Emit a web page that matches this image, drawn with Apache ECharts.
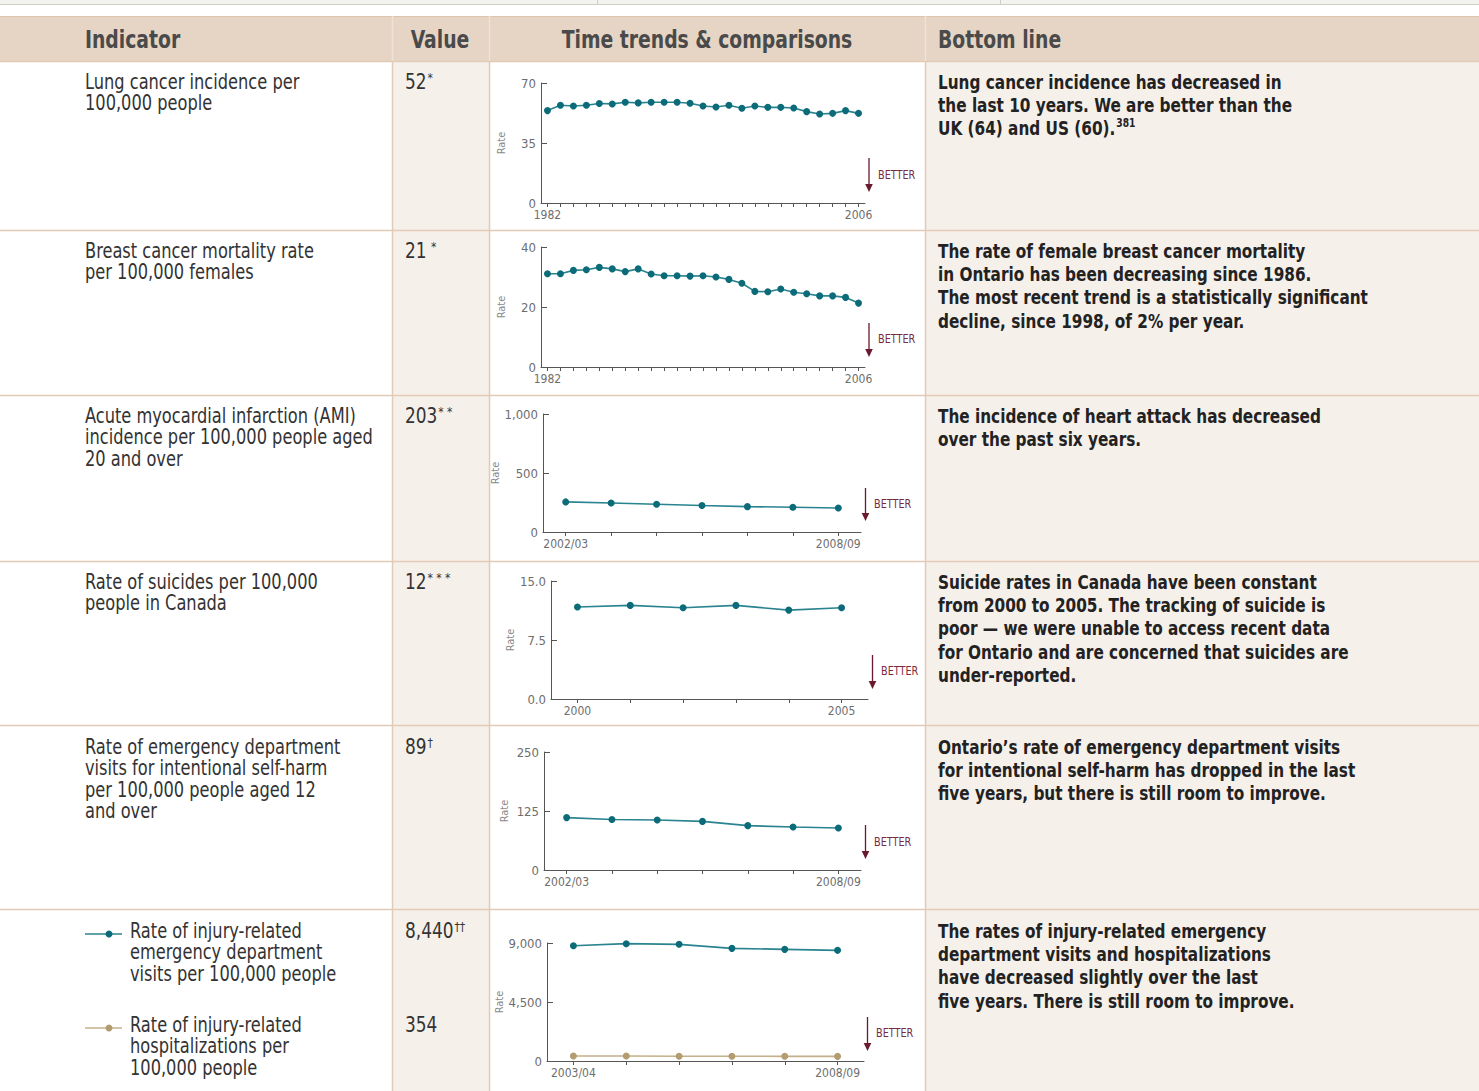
<!DOCTYPE html>
<html>
<head>
<meta charset="utf-8">
<title>Health indicators</title>
<script src="https://cdn.jsdelivr.net/npm/echarts@6/dist/echarts.min.js"></script>
<style>
  html, body { margin: 0; padding: 0; background: #ffffff; }
  #chart { width: 1479px; height: 1091px; }
</style>
</head>
<body>
<div id="chart"></div>
<script>
// ---- data ----
const years = ['1982','1983','1984','1985','1986','1987','1988','1989','1990','1991','1992','1993',
  '1994','1995','1996','1997','1998','1999','2000','2001','2002','2003','2004','2005','2006'];
const lungIncidence = [53.9, 57.0, 56.6, 57.0, 58.0, 57.8, 58.8, 58.4, 58.8, 58.8, 58.8, 58.2,
  56.6, 56.0, 57.0, 55.3, 56.6, 55.8, 55.8, 55.4, 53.3, 51.9, 52.3, 53.9, 52.3];
const breastMortality = [31.1, 31.1, 32.2, 32.4, 33.2, 32.7, 31.8, 32.7, 31.0, 30.4, 30.4, 30.3,
  30.4, 30.0, 29.2, 27.9, 25.2, 25.1, 26.0, 24.9, 24.4, 23.7, 23.7, 23.2, 21.3];
const fiscalYears7 = ['2002/03','2003/04','2004/05','2005/06','2006/07','2007/08','2008/09'];
const amiIncidence = [255, 246, 235, 224, 215, 210, 203];
const suicideYears = ['2000','2001','2002','2003','2004','2005'];
const suicideRate = [11.7, 11.9, 11.6, 11.9, 11.3, 11.6];
const selfHarmVisits = [111, 107, 106, 103, 94, 91, 89];
const fiscalYears6 = ['2003/04','2004/05','2005/06','2006/07','2007/08','2008/09'];
const injuryEdVisits = [8796, 8949, 8898, 8592, 8516, 8440];
const injuryHospitalizations = [382, 380, 366, 358, 356, 354];

const headers = ['Indicator', 'Value', 'Time trends & comparisons', 'Bottom line'];
const indicatorText = [
  ['Lung cancer incidence per', '100,000 people'],
  ['Breast cancer mortality rate', 'per 100,000 females'],
  ['Acute myocardial infarction (AMI)', 'incidence per 100,000 people aged', '20 and over'],
  ['Rate of suicides per 100,000', 'people in Canada'],
  ['Rate of emergency department', 'visits for intentional self-harm', 'per 100,000 people aged 12', 'and over'],
  ['Rate of injury-related', 'emergency department', 'visits per 100,000 people'],
  ['Rate of injury-related', 'hospitalizations per', '100,000 people']
];
const valueText = [
  ['52', '*'], ['21', ' *'], ['203', '* *'], ['12', '* * *'], ['89', '†'], ['8,440', '††'], ['354', '']
];
const bottomLineText = [
  ['Lung cancer incidence has decreased in', 'the last 10 years. We are better than the', ['UK (64) and US (60).', '381']],
  ['The rate of female breast cancer mortality', 'in Ontario has been decreasing since 1986.',
   'The most recent trend is a statistically significant', 'decline, since 1998, of 2% per year.'],
  ['The incidence of heart attack has decreased', 'over the past six years.'],
  ['Suicide rates in Canada have been constant', 'from 2000 to 2005. The tracking of suicide is',
   'poor — we were unable to access recent data', 'for Ontario and are concerned that suicides are', 'under-reported.'],
  ['Ontario’s rate of emergency department visits', 'for intentional self-harm has dropped in the last',
   'five years, but there is still room to improve.'],
  ['The rates of injury-related emergency', 'department visits and hospitalizations',
   'have decreased slightly over the last', 'five years. There is still room to improve.']
];
const betterLabel = 'BETTER';
const axisName = 'Rate';

// ---- styling / layout ----
const FONT = "'Liberation Sans Narrow','DejaVu Sans Condensed','Arial Narrow',sans-serif";
const TEAL = '#0b6b78', TEAL_LINE = '#2a8390';
const TAN = '#b39d70', TAN_LINE = '#c4b08a';
const MAROON = '#6a1a2e';
const RULE = '#e2cbb6';
const W = 1479, H = 1091;
const rowLines = [61, 230, 395, 561, 725, 909];
const colX = [392, 489, 925];

const charts = [
  { grid: { left: 541, top: 83, width: 324, height: 120 }, cats: years,
    series: [{ data: lungIncidence, dot: TEAL, line: TEAL_LINE }], max: 70, interval: 35,
    fmt: v => String(v), nameGap: 34, arrow: [869, 158, 192, 878, 175] },
  { grid: { left: 541, top: 247, width: 324, height: 120 }, cats: years,
    series: [{ data: breastMortality, dot: TEAL, line: TEAL_LINE }], max: 40, interval: 20,
    fmt: v => String(v), nameGap: 34, arrow: [869, 323, 357, 878, 339] },
  { grid: { left: 543, top: 414, width: 318, height: 118 }, cats: fiscalYears7,
    series: [{ data: amiIncidence, dot: TEAL, line: TEAL_LINE }], max: 1000, interval: 500,
    fmt: v => v.toLocaleString('en-US'), nameGap: 33, arrow: [865.5, 488, 521, 874, 504] },
  { grid: { left: 551, top: 581, width: 317, height: 118 }, cats: suicideYears,
    series: [{ data: suicideRate, dot: TEAL, line: TEAL_LINE }], max: 15, interval: 7.5,
    fmt: v => v.toFixed(1), nameGap: 34, arrow: [872.5, 655, 689, 881, 671] },
  { grid: { left: 544, top: 752, width: 317, height: 118 }, cats: fiscalYears7,
    series: [{ data: selfHarmVisits, dot: TEAL, line: TEAL_LINE }], max: 250, interval: 125,
    fmt: v => String(v), nameGap: 34, arrow: [865.5, 825, 859, 874, 842] },
  { grid: { left: 547, top: 943, width: 317, height: 118 }, cats: fiscalYears6,
    series: [{ data: injuryEdVisits, dot: TEAL, line: TEAL_LINE },
             { data: injuryHospitalizations, dot: TAN, line: TAN_LINE }], max: 9000, interval: 4500,
    fmt: v => v.toLocaleString('en-US'), nameGap: 39, arrow: [867.5, 1017, 1051, 876, 1033] }
];

// ---- table scaffolding ----
const g = [];
const rect = (x, y, w, h, fill, z) => g.push({ type: 'rect', z: z, silent: true,
  shape: { x, y, width: w, height: h }, style: { fill } });
const line = (x1, y1, x2, y2, stroke, lw, z) => g.push({ type: 'line', z: z, silent: true,
  shape: { x1, y1, x2, y2 }, style: { stroke, lineWidth: lw } });
// text anchored at (x, y); sx narrows the glyphs horizontally about the anchor
const text = (x, y, str, opts, sx) => g.push({ type: 'text', z: 5, silent: true, x, y,
  scaleX: sx || 1,
  style: Object.assign({ text: str, fontFamily: FONT, fontSize: 20, fill: '#333',
    align: 'left', verticalAlign: 'middle' }, opts || {}) });

// top strip
rect(0, 0, W, 4, '#f2f2ee', -10);
line(0, 4.5, W, 4.5, '#cfcfc6', 1, -5);
line(597.5, 0, 597.5, 4, '#cfcfc6', 1, -5);
line(1000.5, 0, 1000.5, 4, '#cfcfc6', 1, -5);

// column backgrounds
rect(colX[0], 61, colX[1] - colX[0], H - 61, '#f6f0eb', -10);
rect(colX[2], 61, W - colX[2], H - 61, '#f6f0eb', -10);
// header band
rect(0, 16, W, 45, '#e6d5c5', -9);
line(0, 16.5, W, 16.5, '#dcc4ae', 1, -5);
colX.forEach(x => line(x + 0.5, 16, x + 0.5, 61, '#efe3d7', 1.5, -4));
colX.forEach(x => line(x + 0.5, 61, x + 0.5, H, RULE, 1.5, -5));
rowLines.forEach(y => line(0, y + 0.5, W, y + 0.5, RULE, 1.5, -4));

const hdrStyle = { fontSize: 24, fontWeight: 'bold', fill: '#4a4a4a' };
const HDR_SX = 0.87;
text(85, 39, headers[0], hdrStyle, HDR_SX);
text(440, 39, headers[1], Object.assign({ align: 'center' }, hdrStyle), HDR_SX);
text(707, 39, headers[2], Object.assign({ align: 'center' }, hdrStyle), HDR_SX);
text(938, 39, headers[3], hdrStyle, HDR_SX);

// indicator column
const rowTops = [82, 251, 416, 582, 747, 931, 1025];
indicatorText.forEach((lines, i) => {
  const x = i >= 5 ? 130 : 85;
  lines.forEach((s, k) => text(x, rowTops[i] + k * 21.5, s, { fontSize: 20.5 }, 0.88));
});
// legend keys for the two injury series
[[931, TEAL, TEAL_LINE], [1025, TAN, TAN_LINE]].forEach(([y, dot, ln]) => {
  line(85, y + 3, 122, y + 3, ln, 1.6, 5);
  g.push({ type: 'circle', z: 6, silent: true, shape: { cx: 109, cy: y + 3, r: 3.5 }, style: { fill: dot } });
});

// value column
valueText.forEach(([v, sup], i) => {
  text(405, rowTops[i], '{v|' + v + '}' + (sup ? '{s|' + sup + '}' : ''), {
    rich: {
      v: { fontFamily: FONT, fontSize: 20.5, fill: '#333', lineHeight: 22 },
      s: { fontFamily: FONT, fontSize: 13, fill: '#333', lineHeight: 22, verticalAlign: 'top', padding: [0, 0, 6, 1] }
    }
  }, 0.92);
});

// bottom line column
const blTops = [82, 251, 416, 582, 747, 931];
const BL_SX = 0.85;
bottomLineText.forEach((lines, i) => {
  lines.forEach((s, k) => {
    const y = blTops[i] + k * 23.2;
    const base = { fontFamily: FONT, fontSize: 20, fontWeight: 'bold', fill: '#222', lineHeight: 22 };
    if (Array.isArray(s)) {
      text(938, y, '{b|' + s[0] + '}{s|' + s[1] + '}', {
        rich: { b: base, s: Object.assign({}, base, { fontSize: 12, verticalAlign: 'top', padding: [0, 0, 8, 1] }) }
      }, BL_SX);
    } else {
      text(938, y, s, { fontWeight: 'bold', fill: '#222' }, BL_SX);
    }
  });
});

// "better" direction arrows next to each trend chart
charts.forEach(c => {
  const [x, y1, y2, tx, ty] = c.arrow;
  line(x, y1, x, y2 - 6, MAROON, 1.3, 5);
  g.push({ type: 'polygon', z: 5, silent: true,
    shape: { points: [[x - 3.8, y2 - 8], [x + 3.8, y2 - 8], [x, y2]] }, style: { fill: MAROON } });
  text(tx, ty, betterLabel, { fontSize: 12, fill: '#7a2b40' }, 0.9);
});

// ---- trend charts ----
const grids = [], xAxes = [], yAxes = [], series = [];
charts.forEach((c, i) => {
  grids.push(Object.assign({ containLabel: false }, c.grid));
  const last = c.cats.length - 1;
  xAxes.push({
    type: 'category', gridIndex: i, data: c.cats, boundaryGap: true,
    axisLine: { lineStyle: { color: '#555', width: 1 } },
    axisTick: { show: true, interval: 0, alignWithLabel: true, length: 4, lineStyle: { color: '#555' } },
    axisLabel: { interval: (idx) => idx === 0 || idx === last, fontFamily: FONT, fontSize: 12,
      color: '#6e6e6e', margin: 6 },
    splitLine: { show: false }
  });
  yAxes.push({
    type: 'value', gridIndex: i, min: 0, max: c.max, interval: c.interval,
    name: axisName, nameLocation: 'middle', nameGap: c.nameGap,
    nameTextStyle: { fontFamily: FONT, fontSize: 11, color: '#8a8a8a' },
    axisLine: { show: true, lineStyle: { color: '#555', width: 1 } },
    axisTick: { show: true, inside: true, length: 6, lineStyle: { color: '#555' } },
    axisLabel: { fontFamily: FONT, fontSize: 13, color: '#6e6e6e', margin: 5, formatter: c.fmt },
    splitLine: { show: false }
  });
  c.series.forEach(s => series.push({
    type: 'line', xAxisIndex: i, yAxisIndex: i, data: s.data,
    symbol: 'circle', symbolSize: 7, showAllSymbol: true,
    lineStyle: { color: s.line, width: 1.6 }, itemStyle: { color: s.dot },
    emphasis: { disabled: true }, silent: true
  }));
});

const chart = echarts.init(document.getElementById('chart'), null, { renderer: 'svg', width: W, height: H });
chart.setOption({
  animation: false,
  backgroundColor: '#ffffff',
  grid: grids, xAxis: xAxes, yAxis: yAxes, series: series,
  graphic: { elements: g }
});
</script>
</body>
</html>
